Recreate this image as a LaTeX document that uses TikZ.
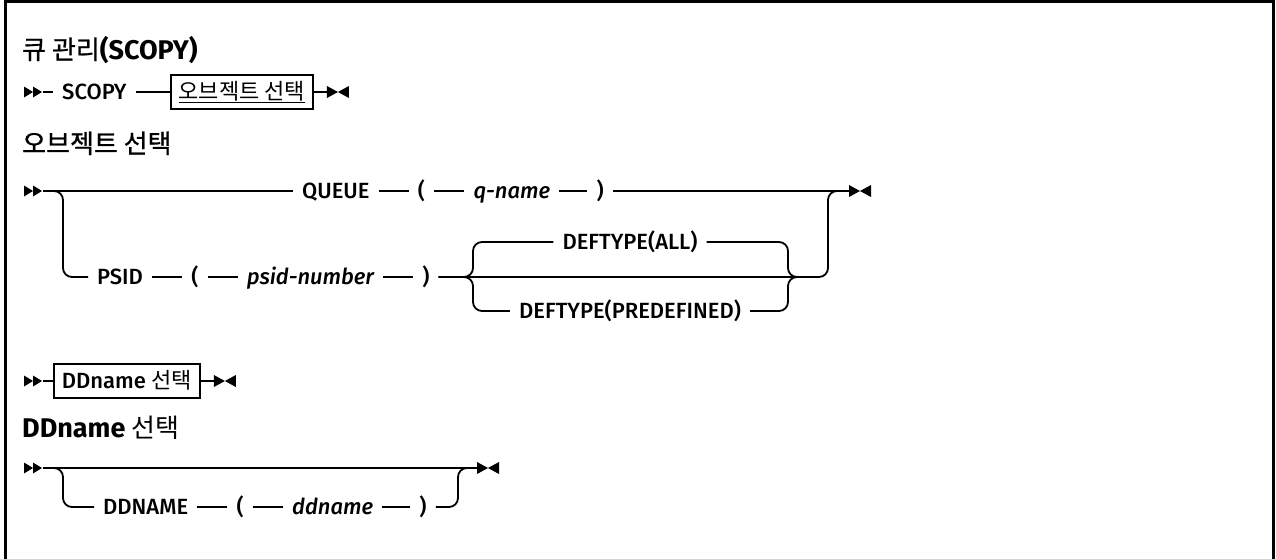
\documentclass[tikz,border=0pt]{standalone}
\usepackage{fontspec}
\setmainfont{Fira Sans}[UprightFont={* Medium},ItalicFont={* Medium Italic},BoldFont={* Bold}]
\newfontfamily\kr{Noto Sans CJK KR}
\newfontfamily\krh{Noto Sans CJK KR}[FakeBold=0.8]
\usetikzlibrary{positioning}
\newcommand\rowfont{\fontsize{22}{25}\selectfont}
\newcommand\headfont{\fontsize{27}{30}\selectfont\bfseries}
\newcommand\krt[1]{{\krh\mdseries\fontsize{26}{30}\selectfont #1}}
\newsavebox\ulbox
\newcommand\krline[1]{\sbox\ulbox{#1}\rlap{\rule[-3.5pt]{\wd\ulbox}{1.4pt}}\usebox\ulbox}
\tikzset{
  rail/.style={line width=1.8pt,rounded corners=9pt},
  tok/.style={inner xsep=9pt,inner ysep=0pt,text height=15.2pt,text depth=0pt,font=\rowfont},
  var/.style={tok,font=\rowfont\itshape},
  refbox/.style={draw,line width=1.8pt,inner xsep=8pt,inner ysep=0pt,text height=16pt,text depth=1pt,minimum height=34pt,font=\rowfont},
  head/.style={anchor=base west,inner sep=0pt,font=\headfont},
  startmk/.pic={
    \fill (-19,-5.5) -- (-10,0) -- (-19,5.5) -- cycle;
    \fill (-10,-5.5) -- (-1,0) -- (-10,5.5) -- cycle;
  },
  endmk/.pic={
    \fill (0,-6) -- (11,0) -- (0,6) -- cycle;
    \fill (22,-6) -- (11,0) -- (22,6) -- cycle;
  },
}
\begin{document}
\begin{tikzpicture}[x=1pt,y=-1pt]
\useasboundingbox (0,0) rectangle (1276,558);
\draw[line width=3pt] (5.5,562) -- (5.5,1.5) -- (1273,1.5) -- (1273,562);

% headings
\node[head] (title) at (22,59) {\krt{큐 관리}(SCOPY)};
\node[head] (objhead) at (22,153) {\krt{오브젝트 선택}};
\node[head] (ddhead) at (22,437) {DDname {\kr\mdseries\fontsize{26}{30}\selectfont 선택}};

% SCOPY
\coordinate (r1s) at (43,92);
\node[tok,anchor=west] (scopy) at (53,92) {SCOPY};
\node[refbox,right=34pt of scopy] (objref) {\krline{\kr 오브젝트 선택}};
\coordinate[right=13pt of objref] (r1e);
\pic at (r1s) {startmk};
\pic at (r1e) {endmk};
\draw[rail] (r1s) -- (scopy);
\draw[rail] (scopy) -- (objref);
\draw[rail] (objref) -- (r1e);

% object choice
\coordinate (r2s) at (43,191);
\coordinate (r2j) at (63,191);
\coordinate (r2k) at (828,191);
\coordinate (r2e) at (849,191);
\node[tok,anchor=west] (queue) at (293,191) {QUEUE};
\node[tok,right=30pt of queue] (qopen) {(};
\node[var,right=30pt of qopen] (qname) {q-name};
\node[tok,right=28pt of qname] (qclose) {)};
\node[tok,anchor=west] (psid) at (88,277) {PSID};
\node[tok,right=30pt of psid] (popen) {(};
\node[var,right=30pt of popen] (pnum) {psid-number};
\node[tok,right=30pt of pnum] (pclose) {)};
\node[tok] (dall) at (630,242) {DEFTYPE(ALL)};
\node[tok] (dpre) at (630,311) {DEFTYPE(PREDEFINED)};
\coordinate (bl) at (473,277);
\coordinate (br) at (788,277);
\coordinate (bre) at (806,277);
\pic at (r2s) {startmk};
\pic at (r2e) {endmk};
\draw[rail] (r2s) -- (queue);
\draw[rail] (queue) -- (qopen);
\draw[rail] (qopen) -- (qname);
\draw[rail] (qname) -- (qclose);
\draw[rail] (qclose) -- (r2e);
\draw[rail] (r2s) -| (r2j |- psid) -- (psid);
\draw[rail] (psid) -- (popen);
\draw[rail] (popen) -- (pnum);
\draw[rail] (pnum) -- (pclose);
\draw[rail] (pclose) -| (r2k) -- (r2e);
\draw[rail] (pclose) -| (bl |- dall) -- (dall);
\draw[rail] (pclose) -| (bl |- dpre) -- (dpre);
\draw[rail] (dall) -| (br) -- (bre);
\draw[rail] (dpre) -| (br) -- (bre);

% DDname
\coordinate (r3s) at (43,381);
\node[refbox,anchor=west] (ddref) at (53,381) {DDname {\kr 선택}};
\coordinate[right=13pt of ddref] (r3e);
\pic at (r3s) {startmk};
\pic at (r3e) {endmk};
\draw[rail] (r3s) -- (ddref);
\draw[rail] (ddref) -- (r3e);

% DDname choice
\coordinate (r4s) at (43,468);
\coordinate (r4j) at (63,468);
\coordinate (r4k) at (458,468);
\coordinate (r4e) at (477,468);
\node[tok,anchor=west] (ddn) at (94,507) {DDNAME};
\node[tok,right=30pt of ddn] (dopen) {(};
\node[var,right=30pt of dopen] (dname) {ddname};
\node[tok,right=28pt of dname] (dclose) {)};
\pic at (r4s) {startmk};
\pic at (r4e) {endmk};
\draw[rail] (r4s) -- (r4e);
\draw[rail] (r4s) -| (r4j |- ddn) -- (ddn);
\draw[rail] (ddn) -- (dopen);
\draw[rail] (dopen) -- (dname);
\draw[rail] (dname) -- (dclose);
\draw[rail] (dclose) -| (r4k) -- (r4e);
\end{tikzpicture}
\end{document}
